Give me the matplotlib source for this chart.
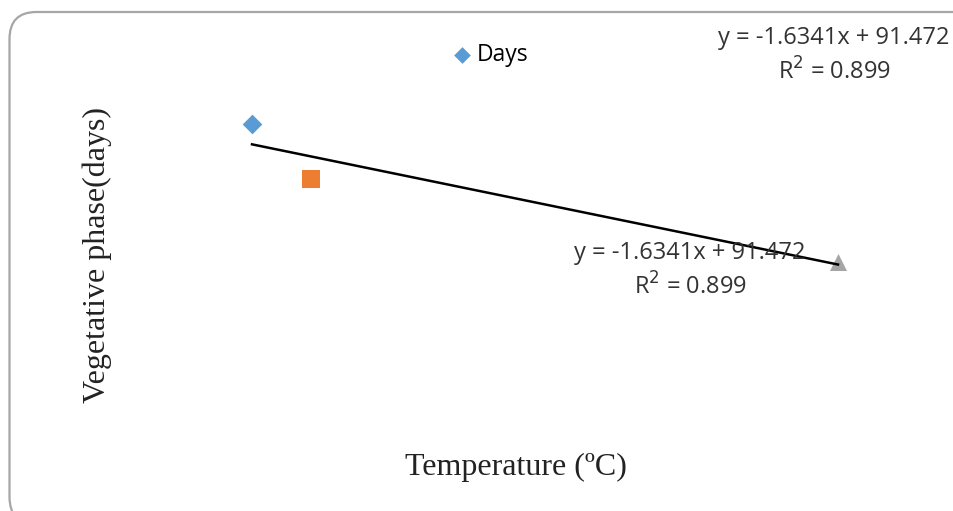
import numpy as np
import matplotlib
matplotlib.use("Agg")
import matplotlib.pyplot as plt
from matplotlib.patches import FancyBboxPatch

# Data
temperature = [18.0, 19.2, 30.0]
days = [65.5, 56.5, 42.9]
series_label = "Days"
eq_text = "y = -1.6341x + 91.472\nR$^2$ = 0.899"
xlabel = "Temperature (ºC)"
ylabel = "Vegetative phase(days)"

fig = plt.figure(figsize=(9.54, 5.11), dpi=100)
fig.patch.set_facecolor("white")

# rounded chart border (extends past right/bottom edges like the reference)
border = FancyBboxPatch((0.095, -0.13), 10.0, 5.11 - 0.12 + 0.13,
                        boxstyle="round,pad=0,rounding_size=0.27",
                        transform=fig.dpi_scale_trans, fill=False,
                        edgecolor="#a6a6a6", linewidth=1.6)
fig.patches.append(border)

W, H = 954, 511
ax = fig.add_axes([0, 0, 1, 1])
ax.set_xlim(12.839, 32.376)
ax.set_ylim(2.26, 85.75)
ax.axis("off")

ax.scatter(temperature[0], days[0], marker="D", s=100, color="#5B9BD5",
           label=series_label, zorder=3, linewidths=0)
ax.scatter(temperature[1], days[1], marker="s", s=170, color="#ED7D31",
           zorder=3, linewidths=0)
ax.scatter(temperature[2], days[2], marker="^", s=150, color="#A5A5A5",
           zorder=3, linewidths=0)

coef = np.polyfit(temperature, days, 1)
xs = np.array([min(temperature), max(temperature)])
ax.plot(xs, np.polyval(coef, xs), color="black", linewidth=1.8, zorder=4)

leg = ax.legend(loc="center", bbox_to_anchor=(488 / W, 1 - 55 / H),
                frameon=False, handletextpad=0.05, handlelength=1.2,
                markerscale=0.85,
                prop={"family": "Open Sans", "size": 16.5})

fs = 17
fig.text(690 / W, 1 - 271 / H, eq_text, ha="center", va="center",
         family="Open Sans", fontsize=fs, linespacing=1.4, color="#333333")
fig.text(834 / W, 1 - 56 / H, eq_text, ha="center", va="center",
         family="Open Sans", fontsize=fs, linespacing=1.4, color="#333333")

fig.text(516 / W, 1 - 467 / H, xlabel, ha="center", va="center",
         family="Liberation Serif", fontsize=23, color="#222222")
fig.text(97 / W, 1 - 255 / H, ylabel, ha="center", va="center",
         rotation=90, family="Liberation Serif", fontsize=23, color="#222222")

fig.savefig("out.png", dpi=100)
